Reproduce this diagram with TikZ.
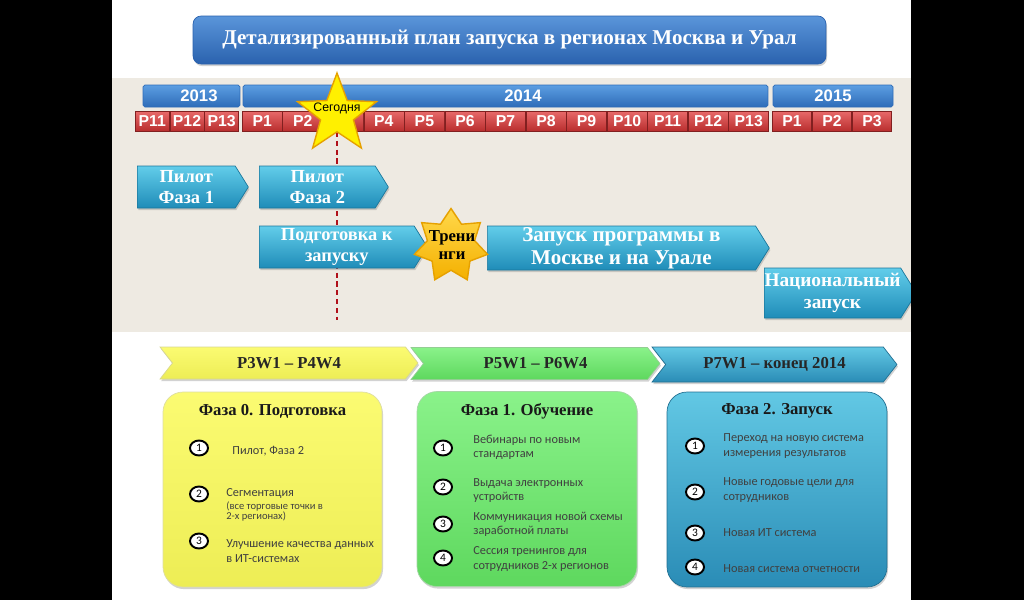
\documentclass[tikz,border=0pt]{standalone}
\usepackage{fontspec}
\setmainfont{Liberation Serif}
\newfontfamily\sansfont{Liberation Sans}
\newfontfamily\bodyfont{Carlito}
\usetikzlibrary{shapes.geometric, shapes.symbols, shadows}

\definecolor{bandgray}{HTML}{EEEAE2}
\definecolor{titleTop}{HTML}{5A95DA}
\definecolor{titleBot}{HTML}{2A62AE}
\definecolor{yearTop}{HTML}{5C9EE2}
\definecolor{yearBot}{HTML}{2E6CB8}
\definecolor{perTop}{HTML}{E86A6A}
\definecolor{perBot}{HTML}{B92E2E}
\definecolor{phaseTop}{HTML}{62CDEA}
\definecolor{phaseBot}{HTML}{1F8CB8}
\definecolor{nowred}{HTML}{B0101A}
\definecolor{nowyellow}{HTML}{FFF000}
\definecolor{nowedge}{HTML}{E6A100}
\definecolor{trainTop}{HTML}{FFD84A}
\definecolor{trainBot}{HTML}{F4B000}
\definecolor{yelTop}{HTML}{FBFB72}
\definecolor{yelBot}{HTML}{EDED55}
\definecolor{grnTop}{HTML}{8AF28A}
\definecolor{grnBot}{HTML}{5ED85E}
\definecolor{bluTop}{HTML}{62C8E4}
\definecolor{bluBot}{HTML}{2A8CB6}

\tikzset{
  softshadow/.style={drop shadow={shadow xshift=0.6pt, shadow yshift=-1.2pt, opacity=0.35}},
  titlebar/.style={rectangle, rounded corners=0.16cm, top color=titleTop, bottom color=titleBot,
    draw=titleBot, text=white, font=\bfseries\fontsize{12}{14}\selectfont, inner sep=0pt, softshadow},
  yearbar/.style={rectangle, rounded corners=1pt, top color=yearTop, bottom color=yearBot,
    draw=yearBot, text=white, font=\sansfont\bfseries\fontsize{9.5}{10}\selectfont,
    minimum height=0.44cm, inner sep=0pt},
  periodbox/.style={rectangle, top color=perTop, bottom color=perBot, draw=perBot!70!black,
    text=white, font=\sansfont\bfseries\fontsize{9}{10}\selectfont, minimum height=0.4cm, inner sep=0pt},
  nowstar/.style={star, star points=5, star point ratio=2.4, minimum size=1.66cm, inner sep=0pt,
    fill=nowyellow, draw=nowedge, thick},
  trainstar/.style={star, star points=7, star point ratio=1.55, minimum size=1.5cm, inner sep=0pt,
    top color=trainTop, bottom color=trainBot, draw=nowedge, thick},
  phasearrow/.style={signal, signal to=east, signal pointer angle=116, anchor=west, top color=phaseTop,
    bottom color=phaseBot, draw=phaseBot!85!black, text=white, align=center, inner sep=0pt,
    minimum height=0.84cm, font=\bfseries\fontsize{10.5}{12}\selectfont, softshadow},
  stagechev/.style={signal, signal from=west, signal to=east, signal pointer angle=104,
    inner sep=0pt, minimum height=0.64cm, text=black!85, font=\bfseries\fontsize{9.5}{11}\selectfont, softshadow},
  phasecard/.style={rectangle, rounded corners=0.4cm, inner sep=0pt, minimum height=3.9cm, softshadow},
  cardtitle/.style={font=\bfseries\fontsize{9.5}{11}\selectfont, text=black!90},
  numdot/.style={ellipse, draw=black, line width=1.1pt, fill=white, minimum width=0.36cm,
    minimum height=0.3cm, inner sep=0pt, font=\bodyfont\fontsize{6.5}{7}\selectfont},
  itemtext/.style={anchor=west, align=left, inner sep=0pt, text=black!75,
    font=\bodyfont\fontsize{7}{8.2}\selectfont},
}

\begin{document}
\begin{tikzpicture}[x=0.02cm, y=-0.02cm]
  % Slide area between the black side bars
  \useasboundingbox (0,0) rectangle (1024,600);
  \fill[black] (0,0) rectangle (1024,600);
  \fill[white] (112,0) rectangle (911,600);
  \fill[bandgray] (112,78) rectangle (911,332);

  % Title
  \node[titlebar, minimum width=12.66cm, minimum height=0.96cm] (title) at (509.5,40)
    {Детализированный план запуска в регионах Москва и Урал};

  % Years
  \node[yearbar, minimum width=1.94cm] (y2013) at (191.5,96) {\hspace*{0.3cm}2013};
  \node[yearbar, minimum width=10.5cm] (y2014) at (505.5,96) {\hspace*{0.7cm}2014};
  \node[yearbar, minimum width=2.4cm] (y2015) at (833,96) {2015};

  % Periods of each year
  \foreach \i/\x in {11/152.3, 12/187, 13/221.7}
    \node[periodbox, minimum width=0.68cm] (a\i) at (\x,121) {P\i};
  \foreach \i in {1,...,13}
    \node[periodbox, minimum width=0.8cm] (b\i) at ({221.7+40.54*\i},121) {P\i};
  \foreach \i in {1,2,3}
    \node[periodbox, minimum width=0.79cm] (c\i) at ({752+40*\i},121) {P\i};

  % Today marker
  \coordinate (now) at (337,114.5);
  \coordinate (nowend) at (337,320);
  \draw[nowred, line width=1.2pt, dash pattern=on 3pt off 2pt] (now) -- (nowend);
  \node[nowstar] (nowmark) at (now) {};
  \node[font=\sansfont\fontsize{7}{8}\selectfont] (nowtext) at (337,108) {Сегодня};

  % Phases on the time line
  \node[phasearrow, minimum width=2.22cm] (pilot1) at (137,187) {Пилот\\Фаза 1};
  \node[phasearrow, minimum width=2.58cm] (pilot2) at (259,187) {Пилот\\Фаза 2};
  \node[phasearrow, minimum width=3.36cm] (prep) at (259,247) {Подготовка к\\запуску};
  \node[phasearrow, minimum width=5.64cm, minimum height=0.88cm, font=\bfseries\fontsize{12}{13}\selectfont]
    (launch) at (487,248) {Запуск программы в\\Москве и на Урале};
  \node[phasearrow, minimum width=3.04cm, minimum height=1cm, font=\bfseries\fontsize{11}{12.5}\selectfont]
    (national) at (764,293) {Национальный\\запуск};
  \node[trainstar] (train) at (451,246) {};
  \node[font=\bfseries\fontsize{9.5}{10.5}\selectfont, align=center] (traintext) at (452,245) {Трени\\нги};

  % Stages
  \node[stagechev, top color=yelTop, bottom color=yelBot, draw=yelBot!80!black!60,
    minimum width=5.16cm] (stage0) at (289,363) {P3W1 – P4W4};
  \node[stagechev, top color=grnTop, bottom color=grnBot, draw=grnBot!80!black!60,
    minimum width=4.98cm] (stage1) at (535.5,363.5) {P5W1 – P6W4};
  \node[stagechev, top color=bluTop, bottom color=bluBot, draw=bluBot!80!black,
    minimum width=4.9cm, minimum height=0.7cm] (stage2) at (774.5,364.5) {P7W1 – конец 2014};

  % Cards
  \node[phasecard, top color=yelTop, bottom color=yelBot, draw=yelBot!80!black!50,
    minimum width=4.38cm] (card0) at (272.5,489.5) {};
  \node[phasecard, top color=grnTop, bottom color=grnBot, draw=grnBot!80!black!50,
    minimum width=4.4cm] (card1) at (527,489) {};
  \node[phasecard, top color=bluTop, bottom color=bluBot, draw=bluBot!80!black,
    minimum width=4.4cm] (card2) at (777,489.5) {};
  \node[cardtitle] (title0) at (272.5,411) {Фаза 0. Подготовка};
  \node[cardtitle] (title1) at (527,411) {Фаза 1. Обучение};
  \node[cardtitle] (title2) at (777,411) {Фаза 2. Запуск};

  % Items of phase 0
  \foreach \n/\cy/\tx/\ty/\txt in {1/448/232/451/{Пилот, Фаза 2}, 2/494/226/494/{Сегментация},
      3/541/226/551/{Улучшение качества данных\\в ИТ-системах}} {
    \node[numdot] (n0\n) at (199,\cy) {\n};
    \node[itemtext] (i0\n) at (\tx,\ty) {\txt};
  }
  \node[itemtext, font=\bodyfont\fontsize{6}{5.8}\selectfont] (i02note) at (226,511.5)
    {(все торговые точки в\\2-х регионах)};

  % Items of phase 1
  \foreach \n/\cy/\ty/\txt in {1/448/447.5/{Вебинары по новым\\стандартам},
      2/487/490.5/{Выдача электронных\\устройств}, 3/524/524.5/{Коммуникация новой схемы\\заработной платы},
      4/558/559/{Сессия тренингов для\\сотрудников 2-х регионов}} {
    \node[numdot] (n1\n) at (443,\cy) {\n};
    \node[itemtext] (i1\n) at (473,\ty) {\txt};
  }

  % Items of phase 2
  \foreach \n/\cy/\ty/\txt in {1/446/446/{Переход на новую система\\измерения результатов},
      2/492/490/{Новые годовые цели для\\сотрудников}, 3/533/533/{Новая ИТ система},
      4/567/569/{Новая система отчетности}} {
    \node[numdot] (n2\n) at (695,\cy) {\n};
    \node[itemtext] (i2\n) at (723,\ty) {\txt};
  }

  % Right side bar over the clipped arrow
  \fill[black] (911,0) rectangle (1024,600);
\end{tikzpicture}
\end{document}
